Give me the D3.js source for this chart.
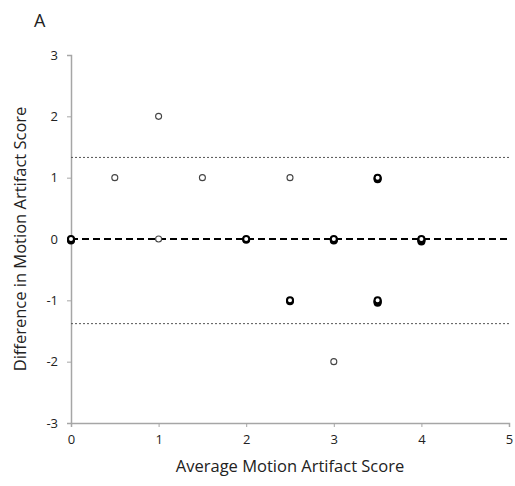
<!DOCTYPE html>
<html><head><meta charset="utf-8">
<script src="https://cdn.jsdelivr.net/npm/d3@7"></script>
<style>body{margin:0;background:#fff}svg{display:block}text{font-family:"Open Sans","Liberation Sans",sans-serif;fill:#222}</style>
</head><body><svg id="c" width="515" height="486"></svg>
<script>
const avgScore = [0, 0.5, 1, 1, 1.5, 2, 2.5, 2.5, 3, 3, 3.5, 3.5, 4];
const diffScore = [0, 1, 2, 0, 1, 0, 1, -1, 0, -2, 1, -1, 0];
const counts = [3, 1, 1, 1, 1, 2, 1, 2, 3, 1, 3, 4, 4];
const meanDiff = 0;
const upperLoA = 1.33;
const lowerLoA = -1.38;
const xTicks = [0, 1, 2, 3, 4, 5];
const yTicks = [-3, -2, -1, 0, 1, 2, 3];

const svg = d3.select("#c");
const x = d3.scaleLinear().domain([0, 5]).range([71, 509]);
const y = d3.scaleLinear().domain([-3, 3]).range([423, 55]);
const axisColor = "#a6a6a6";
const fmt = d => String(d);

// axes
const xAxis = svg.append("g").attr("transform", `translate(0,${y(-3)})`)
  .call(d3.axisBottom(x).tickValues(xTicks).tickSize(4).tickPadding(8).tickFormat(fmt));
const yAxis = svg.append("g").attr("transform", `translate(${x(0)},0)`)
  .call(d3.axisLeft(y).tickValues(yTicks).tickSize(4).tickPadding(9).tickFormat(fmt));
[xAxis, yAxis].forEach(g => {
  g.selectAll("path.domain").attr("stroke", axisColor).attr("stroke-width", 1.5);
  g.selectAll(".tick line").attr("stroke", axisColor);
  g.selectAll(".tick text").attr("font-size", 13).attr("fill", "#222")
    .attr("font-family", '"Open Sans","Liberation Sans",sans-serif');
});

// reference lines
svg.append("line").attr("x1", x(0)).attr("x2", x(5)).attr("y1", y(upperLoA)).attr("y2", y(upperLoA))
  .attr("stroke", "#555").attr("stroke-width", 1).attr("stroke-dasharray", "2,2");
svg.append("line").attr("x1", x(0)).attr("x2", x(5)).attr("y1", y(lowerLoA)).attr("y2", y(lowerLoA))
  .attr("stroke", "#555").attr("stroke-width", 1).attr("stroke-dasharray", "2,2");
svg.append("line").attr("x1", x(0)).attr("x2", x(5)).attr("y1", y(meanDiff)).attr("y2", y(meanDiff))
  .attr("stroke", "#000").attr("stroke-width", 2).attr("stroke-dasharray", "7,4");

// points (overlapping markers drawn slightly offset)
const pts = avgScore.map((a, i) => ({a, d: diffScore[i], n: counts[i]}));
const g = svg.append("g");
pts.forEach(p => {
  for (let k = p.n - 1; k >= 0; k--) {
    g.append("circle").attr("cx", x(p.a)).attr("cy", y(p.d) + k * 0.8)
      .attr("r", 3).attr("fill", "#fff")
      .attr("stroke", p.n > 1 ? "#000" : "#444").attr("stroke-width", p.n > 1 ? 2 : 1.1);
  }
});

// titles
svg.append("text").attr("x", x(2.5)).attr("y", 472).attr("text-anchor", "middle")
  .attr("font-size", 16.5).text("Average Motion Artifact Score");
svg.append("text").attr("transform", `translate(26,${y(0)}) rotate(-90)`).attr("text-anchor", "middle")
  .attr("font-size", 16.5).text("Difference in Motion Artifact Score");
svg.append("text").attr("x", 34).attr("y", 27).attr("font-size", 18).text("A");
</script></body></html>
